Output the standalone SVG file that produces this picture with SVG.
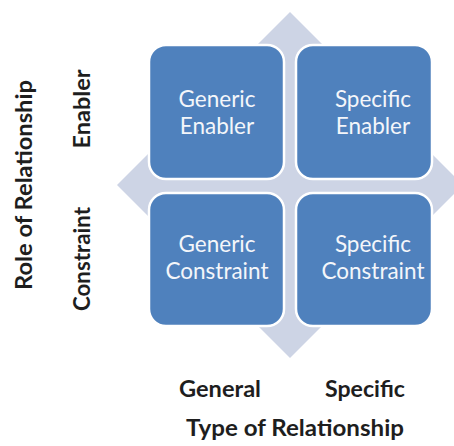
<svg xmlns="http://www.w3.org/2000/svg" width="454" height="446" viewBox="0 0 454 446">
<style>
.box{fill:#4f81bd;stroke:#ffffff;stroke-width:2.5}
.bt{font-family:Lato,"Open Sans",sans-serif;font-size:22.5px;fill:#f4f6fa;text-anchor:middle}
.ax{font-family:Lato,"Open Sans",sans-serif;font-weight:bold;font-size:22px;fill:#1e1e1e;text-anchor:middle}
</style>
<rect width="454" height="446" fill="#ffffff"/>
<g id="diamond"><polygon points="290,12 463,185 290,358 117,185" fill="#cdd4e5"/></g>
<g id="connectors"></g>
<g id="generic-enabler">
<rect class="box" x="149" y="45" width="135" height="134" rx="17"/>
<text class="bt" x="217" y="107">Generic</text>
<text class="bt" x="217" y="134">Enabler</text>
</g>
<g id="specific-enabler">
<rect class="box" x="296" y="45" width="136" height="134" rx="17"/>
<text class="bt" x="373" y="107">Specific</text>
<text class="bt" x="373" y="134">Enabler</text>
</g>
<g id="generic-constraint">
<rect class="box" x="149" y="193" width="135" height="133" rx="17"/>
<text class="bt" x="217" y="252">Generic</text>
<text class="bt" x="217" y="279">Constraint</text>
</g>
<g id="specific-constraint">
<rect class="box" x="296" y="193" width="136" height="133" rx="17"/>
<text class="bt" x="373" y="252">Specific</text>
<text class="bt" x="373" y="279">Constraint</text>
</g>
<g id="labels">
<text class="ax" x="220" y="397" textLength="82" lengthAdjust="spacingAndGlyphs">General</text>
<text class="ax" x="365" y="397" textLength="80" lengthAdjust="spacingAndGlyphs">Specific</text>
<text class="ax" x="295" y="436" textLength="218" lengthAdjust="spacingAndGlyphs">Type of Relationship</text>
<text class="ax" transform="translate(32,185) rotate(-90)" textLength="210" lengthAdjust="spacingAndGlyphs">Role of Relationship</text>
<text class="ax" transform="translate(90,109) rotate(-90)" textLength="79" lengthAdjust="spacingAndGlyphs">Enabler</text>
<text class="ax" transform="translate(90,259) rotate(-90)" textLength="104" lengthAdjust="spacingAndGlyphs">Constraint</text>
</g>
</svg>
